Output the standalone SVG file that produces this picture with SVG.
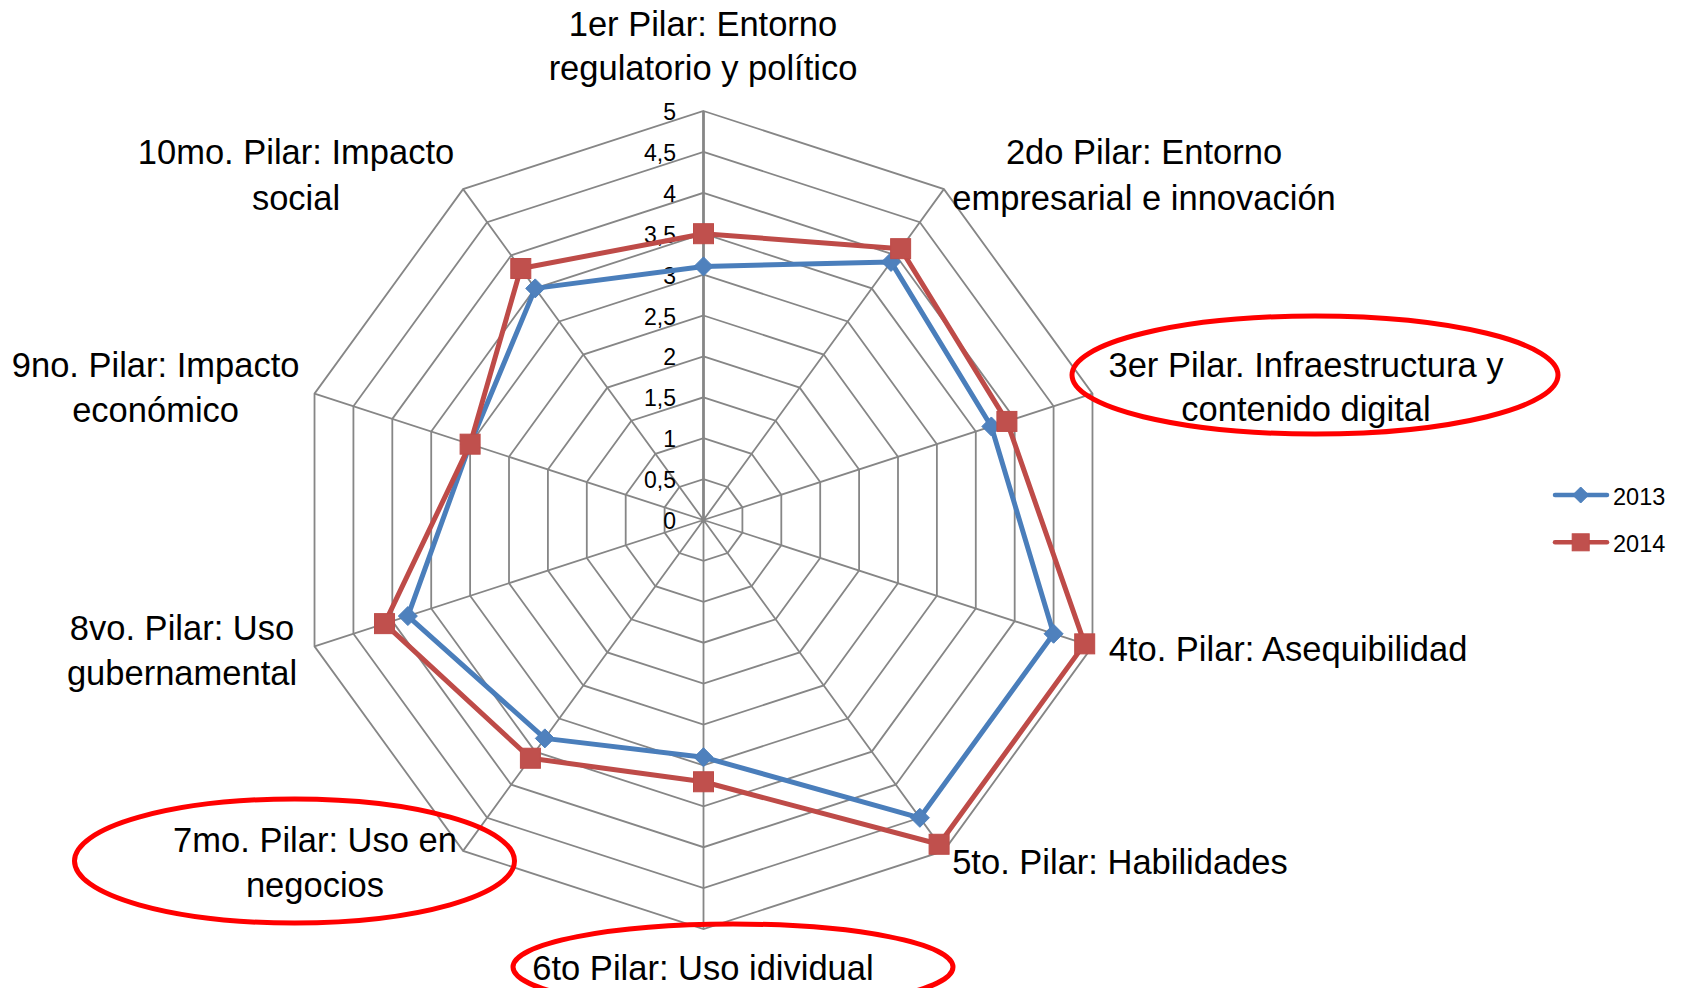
<svg xmlns="http://www.w3.org/2000/svg" xmlns:xlink="http://www.w3.org/1999/xlink" width="1683" height="988" viewBox="0 0 1683 988">
<defs>
<style>
.grid{fill:none;stroke:#868686;stroke-width:1.8}
.axis{fill:none;stroke:#868686;stroke-width:2.8}
.lbl{font-family:"Liberation Sans",Arial,sans-serif;font-size:34.5px;fill:#000;text-anchor:middle}
.tick{font-family:"Liberation Sans",Arial,sans-serif;font-size:23px;fill:#000;text-anchor:end}
.leg{font-family:"Liberation Sans",Arial,sans-serif;font-size:23.5px;fill:#000}
.s13{fill:none;stroke:#4A7EBB;stroke-width:5;stroke-linejoin:round;stroke-linecap:round}
.s14{fill:none;stroke:#BE4B48;stroke-width:5;stroke-linejoin:round;stroke-linecap:round}
.m13{fill:#4F81BD;stroke:#4A7EBB;stroke-width:1}
.m14{fill:#C0504D;stroke:#BE4B48;stroke-width:1}
.hl{fill:none;stroke:#FF0000;stroke-width:5}
</style>
<path id="dia" d="M0,-9.5 L9.5,0 L0,9.5 L-9.5,0 Z"/>
<rect id="sq" x="-10" y="-10" width="20" height="20"/>
<path id="diaS" d="M0,-8 L8,0 L0,8 L-8,0 Z"/>
<rect id="sqS" x="-8.5" y="-8.5" width="17" height="17"/>
</defs>
<rect width="1683" height="988" fill="#fff"/>
<g id="grid" transform="translate(703.5 520)">
<polygon class="grid" points="0,-40.9 24.04,-33.09 38.90,-12.64 38.90,12.64 24.04,33.09 0,40.9 -24.04,33.09 -38.90,12.64 -38.90,-12.64 -24.04,-33.09"/>
<polygon class="grid" points="0,-81.8 48.08,-66.18 77.80,-25.28 77.80,25.28 48.08,66.18 0,81.8 -48.08,66.18 -77.80,25.28 -77.80,-25.28 -48.08,-66.18"/>
<polygon class="grid" points="0,-122.7 72.12,-99.27 116.70,-37.92 116.70,37.92 72.12,99.27 0,122.7 -72.12,99.27 -116.70,37.92 -116.70,-37.92 -72.12,-99.27"/>
<polygon class="grid" points="0,-163.6 96.16,-132.36 155.59,-50.56 155.59,50.56 96.16,132.36 0,163.6 -96.16,132.36 -155.59,50.56 -155.59,-50.56 -96.16,-132.36"/>
<polygon class="grid" points="0,-204.5 120.20,-165.44 194.49,-63.19 194.49,63.19 120.20,165.44 0,204.5 -120.20,165.44 -194.49,63.19 -194.49,-63.19 -120.20,-165.44"/>
<polygon class="grid" points="0,-245.4 144.24,-198.53 233.39,-75.83 233.39,75.83 144.24,198.53 0,245.4 -144.24,198.53 -233.39,75.83 -233.39,-75.83 -144.24,-198.53"/>
<polygon class="grid" points="0,-286.3 168.28,-231.62 272.29,-88.47 272.29,88.47 168.28,231.62 0,286.3 -168.28,231.62 -272.29,88.47 -272.29,-88.47 -168.28,-231.62"/>
<polygon class="grid" points="0,-327.2 192.32,-264.71 311.19,-101.11 311.19,101.11 192.32,264.71 0,327.2 -192.32,264.71 -311.19,101.11 -311.19,-101.11 -192.32,-264.71"/>
<polygon class="grid" points="0,-368.1 216.36,-297.80 350.08,-113.75 350.08,113.75 216.36,297.80 0,368.1 -216.36,297.80 -350.08,113.75 -350.08,-113.75 -216.36,-297.80"/>
<polygon class="grid" points="0,-409 240.40,-330.89 388.98,-126.39 388.98,126.39 240.40,330.89 0,409 -240.40,330.89 -388.98,126.39 -388.98,-126.39 -240.40,-330.89"/>
<path class="grid" d="M0,0 L240.40,-330.89 M0,0 L388.98,-126.39 M0,0 L388.98,126.39 M0,0 L240.40,330.89 M0,0 L0,409 M0,0 L-240.40,330.89 M0,0 L-388.98,126.39 M0,0 L-388.98,-126.39 M0,0 L-240.40,-330.89"/>
<path class="axis" d="M0,0 L0,-409"/>
</g>
<g id="ticks">
<text class="tick" x="676" y="529">0</text>
<text class="tick" x="676" y="488.1">0,5</text>
<text class="tick" x="676" y="447.2">1</text>
<text class="tick" x="676" y="406.3">1,5</text>
<text class="tick" x="676" y="365.4">2</text>
<text class="tick" x="676" y="324.5">2,5</text>
<text class="tick" x="676" y="283.6">3</text>
<text class="tick" x="676" y="242.7">3,5</text>
<text class="tick" x="676" y="201.8">4</text>
<text class="tick" x="676" y="160.9">4,5</text>
<text class="tick" x="676" y="120">5</text>
</g>
<g id="series2013" transform="translate(703.5 520)">
<polygon class="s13" points="0,-253.58 187.52,-258.09 287.85,-93.53 350.08,113.75 216.36,297.80 0,237.22 -158.67,218.39 -295.63,96.05 -233.39,-75.83 -168.28,-231.62"/>
<g class="m13">
<use href="#dia" x="0" y="-253.58"/>
<use href="#dia" x="187.52" y="-258.09"/>
<use href="#dia" x="287.85" y="-93.53"/>
<use href="#dia" x="350.08" y="113.75"/>
<use href="#dia" x="216.36" y="297.80"/>
<use href="#dia" x="0" y="237.22"/>
<use href="#dia" x="-158.67" y="218.39"/>
<use href="#dia" x="-295.63" y="96.05"/>
<use href="#dia" x="-233.39" y="-75.83"/>
<use href="#dia" x="-168.28" y="-231.62"/>
</g>
</g>
<g id="series2014" transform="translate(703.5 520)">
<polygon class="s14" points="0,-286.3 197.13,-271.33 303.41,-98.58 381.20,123.86 235.60,324.27 0,261.76 -173.09,238.24 -318.97,103.64 -233.39,-75.83 -182.71,-251.47"/>
<g class="m14">
<use href="#sq" x="0" y="-286.3"/>
<use href="#sq" x="197.13" y="-271.33"/>
<use href="#sq" x="303.41" y="-98.58"/>
<use href="#sq" x="381.20" y="123.86"/>
<use href="#sq" x="235.60" y="324.27"/>
<use href="#sq" x="0" y="261.76"/>
<use href="#sq" x="-173.09" y="238.24"/>
<use href="#sq" x="-318.97" y="103.64"/>
<use href="#sq" x="-233.39" y="-75.83"/>
<use href="#sq" x="-182.71" y="-251.47"/>
</g>
</g>
<g id="label1"><text class="lbl" x="703" y="35.6">1er Pilar: Entorno</text><text class="lbl" x="703" y="79.6">regulatorio y político</text></g>
<g id="label2"><text class="lbl" x="1144" y="164.4">2do Pilar: Entorno</text><text class="lbl" x="1144" y="209.5">empresarial e innovación</text></g>
<g id="label3"><text class="lbl" x="1306" y="377.3">3er Pilar. Infraestructura y</text><text class="lbl" x="1306" y="421">contenido digital</text></g>
<g id="label4"><text class="lbl" x="1288" y="661.3">4to. Pilar: Asequibilidad</text></g>
<g id="label5"><text class="lbl" x="1120" y="873.9">5to. Pilar: Habilidades</text></g>
<g id="label6"><text class="lbl" x="703" y="980">6to Pilar: Uso idividual</text></g>
<g id="label7"><text class="lbl" x="315" y="851.7">7mo. Pilar: Uso en</text><text class="lbl" x="315" y="897">negocios</text></g>
<g id="label8"><text class="lbl" x="182" y="639.9">8vo. Pilar: Uso</text><text class="lbl" x="182" y="685">gubernamental</text></g>
<g id="label9"><text class="lbl" x="155.6" y="377">9no. Pilar: Impacto</text><text class="lbl" x="155.6" y="422">económico</text></g>
<g id="label10"><text class="lbl" x="296" y="164.4">10mo. Pilar: Impacto</text><text class="lbl" x="296" y="209.5">social</text></g>
<g id="highlights">
<ellipse class="hl" cx="1315" cy="375" rx="243" ry="59"/>
<ellipse class="hl" cx="294.5" cy="861" rx="220" ry="62"/>
<ellipse class="hl" cx="733" cy="967" rx="220" ry="43"/>
</g>
<g id="legend">
<line x1="1555" y1="495" x2="1607" y2="495" stroke="#4A7EBB" stroke-width="4.5" stroke-linecap="round"/>
<use href="#diaS" x="1580.7" y="495" class="m13"/>
<text class="leg" x="1613" y="505">2013</text>
<line x1="1555" y1="542.3" x2="1607" y2="542.3" stroke="#BE4B48" stroke-width="4.5" stroke-linecap="round"/>
<use href="#sqS" x="1580.7" y="542.3" class="m14"/>
<text class="leg" x="1613" y="552">2014</text>
</g>
</svg>
